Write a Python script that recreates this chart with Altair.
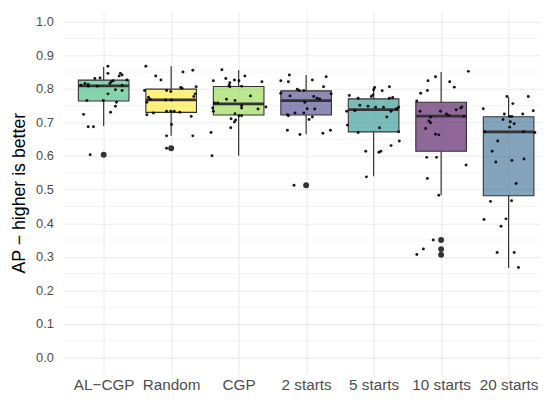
import json
import altair as alt
import pandas as pd

# ---------------- data ----------------
categories = ["AL−CGP", "Random", "CGP", "2 starts", "5 starts", "10 starts", "20 starts"]
fill_colors = ["#35B779", "#FDE725", "#8FD744", "#443A83", "#21908C", "#440154", "#31688E"]

# box statistics (as drawn)
box_q1 = [0.764, 0.730, 0.722, 0.722, 0.672, 0.614, 0.482]
box_median = [0.809, 0.767, 0.755, 0.765, 0.738, 0.719, 0.672]
box_q3 = [0.826, 0.799, 0.807, 0.794, 0.770, 0.760, 0.717]
whisker_low = [0.689, 0.660, 0.601, 0.665, 0.540, 0.484, 0.267]
whisker_high = [0.865, 0.867, 0.855, 0.841, 0.804, 0.850, 0.775]

outlier_cat = ["AL−CGP", "Random", "2 starts", "10 starts", "10 starts", "10 starts"]
outlier_val = [0.604, 0.623, 0.513, 0.350, 0.323, 0.306]

# individual runs (value, horizontal jitter in category units)
al_cgp_vals = [0.867, 0.846, 0.846, 0.841, 0.838, 0.831, 0.832, 0.826, 0.821, 0.824, 0.811, 0.816,
               0.813, 0.808, 0.808, 0.816, 0.811, 0.797, 0.795, 0.785, 0.765, 0.765, 0.760, 0.748,
               0.730, 0.724, 0.687, 0.687, 0.604]
al_cgp_jit = [0.063, 0.063, 0.248, 0.273, 0.229, -0.131, -0.054, 0.345, 0.112, 0.141, -0.336, -0.277,
              -0.229, -0.229, -0.092, 0.092, 0.273, 0.175, 0.273, 0.063, -0.248, -0.005, 0.190, 0.175,
              0.102, -0.297, -0.229, -0.151, -0.200]

random_vals = [0.867, 0.838, 0.826, 0.850, 0.855, 0.804, 0.802, 0.795, 0.795, 0.792, 0.806, 0.785,
               0.775, 0.769, 0.760, 0.767, 0.767, 0.777, 0.723, 0.728, 0.733, 0.733, 0.733, 0.730,
               0.718, 0.694, 0.660, 0.660, 0.623]
random_jit = [-0.375, -0.229, -0.151, 0.175, 0.321, 0.141, 0.161, -0.394, -0.068, -0.005, 0.370, 0.355,
              -0.336, -0.311, -0.360, -0.083, 0.005, 0.336, -0.360, -0.263, -0.068, -0.005, 0.044, 0.127,
              0.297, 0.005, -0.068, 0.321, -0.068]

cgp_vals = [0.857, 0.824, 0.831, 0.818, 0.811, 0.806, 0.826, 0.824, 0.838, 0.821, 0.808, 0.769,
            0.765, 0.779, 0.758, 0.758, 0.743, 0.733, 0.750, 0.743, 0.740, 0.746, 0.726, 0.720,
            0.720, 0.711, 0.707, 0.701, 0.684, 0.670, 0.601]
cgp_jit = [-0.248, -0.375, -0.190, -0.131, -0.141, -0.131, -0.063, 0.005, 0.092, 0.345, 0.044, -0.180,
           -0.054, 0.175, -0.360, -0.311, -0.384, -0.375, 0.044, 0.044, 0.287, 0.404, -0.054, 0.005,
           0.044, -0.112, -0.044, -0.063, -0.117, -0.409, -0.394]

s2_vals = [0.841, 0.824, 0.821, 0.826, 0.836, 0.806, 0.799, 0.795, 0.795, 0.787, 0.779, 0.777,
           0.772, 0.770, 0.785, 0.760, 0.741, 0.740, 0.723, 0.728, 0.728, 0.720, 0.716, 0.709,
           0.677, 0.664, 0.668, 0.677, 0.513]
s2_jit = [-0.248, -0.375, -0.263, 0.092, 0.297, 0.258, -0.131, -0.102, -0.034, -0.375, -0.238, 0.112,
          0.161, 0.200, 0.370, -0.019, 0.015, 0.127, -0.277, -0.165, -0.034, -0.263, 0.092, 0.044,
          -0.277, -0.092, 0.248, 0.360, -0.180]

s5_vals = [0.804, 0.797, 0.794, 0.806, 0.782, 0.777, 0.780, 0.772, 0.772, 0.774, 0.751, 0.748,
           0.745, 0.745, 0.745, 0.741, 0.733, 0.735, 0.733, 0.716, 0.692, 0.684, 0.670, 0.672,
           0.645, 0.631, 0.614, 0.611, 0.614, 0.538]
s5_jit = [0.015, 0.000, 0.127, 0.234, -0.010, -0.034, -0.360, -0.229, 0.234, 0.282, -0.204, -0.083,
          0.029, 0.146, 0.370, 0.341, -0.399, -0.277, 0.258, 0.195, -0.389, 0.088, -0.229, 0.370,
          0.380, 0.258, -0.117, 0.078, 0.107, -0.107]

s10_vals = [0.852, 0.836, 0.824, 0.821, 0.805, 0.795, 0.787, 0.764, 0.733, 0.733, 0.738, 0.743,
            0.746, 0.725, 0.721, 0.718, 0.716, 0.704, 0.699, 0.682, 0.665, 0.663, 0.596, 0.596,
            0.573, 0.533, 0.483, 0.350, 0.323, 0.307]
s10_jit = [0.404, -0.083, -0.195, 0.127, 0.195, -0.204, -0.302, -0.360, -0.311, -0.010, 0.224, 0.292,
           0.307, 0.078, 0.112, 0.341, -0.156, -0.180, -0.156, -0.229, -0.083, -0.034, -0.214, -0.068,
           0.370, -0.204, -0.034, -0.117, -0.263, -0.360]

s20_vals = [0.777, 0.777, 0.756, 0.741, 0.735, 0.725, 0.725, 0.718, 0.718, 0.709, 0.702, 0.696,
            0.686, 0.672, 0.672, 0.670, 0.645, 0.614, 0.582, 0.587, 0.591, 0.518, 0.465, 0.467,
            0.411, 0.413, 0.391, 0.313, 0.313, 0.268]
s20_jit = [-0.024, 0.292, 0.063, -0.375, 0.365, -0.063, 0.209, 0.015, 0.049, -0.083, 0.024, 0.083,
           0.015, -0.355, 0.219, 0.389, -0.161, -0.243, -0.190, 0.049, 0.229, 0.112, -0.268, 0.044,
           -0.365, -0.039, -0.112, -0.170, 0.083, 0.146]

y_breaks = [0.0, 0.1, 0.2, 0.3, 0.4, 0.5, 0.6, 0.7, 0.8, 0.9, 1.0]
y_minor_breaks = [0.05, 0.15, 0.25, 0.35, 0.45, 0.55, 0.65, 0.75, 0.85, 0.95]

# ---------------- tables ----------------
group_vals = [al_cgp_vals, random_vals, cgp_vals, s2_vals, s5_vals, s10_vals, s20_vals]
group_jit = [al_cgp_jit, random_jit, cgp_jit, s2_jit, s5_jit, s10_jit, s20_jit]

rows = []
for i, (vals, jits) in enumerate(zip(group_vals, group_jit)):
    for v, j in zip(vals, jits):
        rows.append({"cat": categories[i], "pos": i + 1, "jit": j, "ap": v})
points_df = pd.DataFrame(rows)

box_df = pd.DataFrame({
    "cat": categories,
    "pos": list(range(1, len(categories) + 1)),
    "q1": box_q1, "med": box_median, "q3": box_q3,
    "lo": whisker_low, "hi": whisker_high,
})

out_df = pd.DataFrame({
    "cat": outlier_cat,
    "pos": [categories.index(c) + 1 for c in outlier_cat],
    "ap": outlier_val,
})

minor_df = pd.DataFrame({"v": y_minor_breaks})

# ---------------- scales ----------------
label_expr = json.dumps(categories, ensure_ascii=False) + "[datum.value - 1]"

x_scale = alt.Scale(domain=[0.4, 7.48], nice=False, zero=False)
y_scale = alt.Scale(domain=[-0.05, 1.032], nice=False, zero=False)

x_axis = alt.Axis(values=list(range(1, len(categories) + 1)), labelExpr=label_expr, title=None,
                  ticks=False, domain=False, grid=True, gridColor="#EBEBEB", gridWidth=1.1,
                  labelColor="#4D4D4D", labelFontSize=15.5, labelPadding=3, labelFont="Liberation Sans")
y_axis = alt.Axis(values=y_breaks, format=".1f", title="AP − higher is better",
                  ticks=False, domain=False, grid=True, gridColor="#EBEBEB", gridWidth=1.1,
                  labelColor="#4D4D4D", labelFontSize=13, labelPadding=10, labelFont="Liberation Sans",
                  titleFontSize=18, titleFontWeight="normal", titleColor="#000000",
                  titleFont="Liberation Sans", titlePadding=7)

color_enc = alt.Color("cat:N", scale=alt.Scale(domain=categories, range=fill_colors), legend=None)

base_box = alt.Chart(box_df).transform_calculate(
    left="datum.pos - 0.375", right="datum.pos + 0.375"
)

minor_grid = alt.Chart(minor_df).mark_rule(color="#EBEBEB", strokeWidth=0.6).encode(
    y=alt.Y("v:Q", scale=y_scale, axis=y_axis)
)

whisk_up = base_box.mark_rule(color="#333333", strokeWidth=1.2).encode(
    x=alt.X("pos:Q", scale=x_scale, axis=x_axis),
    y=alt.Y("q3:Q", scale=y_scale, axis=y_axis),
    y2="hi:Q",
)
whisk_dn = base_box.mark_rule(color="#333333", strokeWidth=1.2).encode(
    x=alt.X("pos:Q", scale=x_scale, axis=x_axis),
    y=alt.Y("lo:Q", scale=y_scale, axis=y_axis),
    y2="q1:Q",
)
boxes = base_box.mark_bar(fillOpacity=0.6, stroke="#333333", strokeWidth=1.1).encode(
    x=alt.X("left:Q", scale=x_scale, axis=x_axis),
    x2="right:Q",
    y=alt.Y("q1:Q", scale=y_scale, axis=y_axis),
    y2="q3:Q",
    color=color_enc,
)
medians = base_box.mark_rule(color="#333333", strokeWidth=2.8).encode(
    x=alt.X("left:Q", scale=x_scale, axis=x_axis),
    x2="right:Q",
    y=alt.Y("med:Q", scale=y_scale, axis=y_axis),
)
outliers = alt.Chart(out_df).mark_circle(color="#333333", size=36, opacity=1).encode(
    x=alt.X("pos:Q", scale=x_scale, axis=x_axis),
    y=alt.Y("ap:Q", scale=y_scale, axis=y_axis),
)
jitter = alt.Chart(points_df).transform_calculate(
    xj="datum.pos + datum.jit"
).mark_circle(color="#000000", size=9, opacity=0.9).encode(
    x=alt.X("xj:Q", scale=x_scale, axis=x_axis),
    y=alt.Y("ap:Q", scale=y_scale, axis=y_axis),
)

chart = alt.layer(
    minor_grid, whisk_up, whisk_dn, boxes, medians, outliers, jitter
).properties(
    width=485, height=369,
    autosize=alt.AutoSizeParams(type="none"),
    padding={"left": 56, "top": 0, "right": 0, "bottom": 20},
    background="white",
).configure_view(stroke=None).configure_axis(labelFont="Liberation Sans", titleFont="Liberation Sans")

chart.save("out.html", embed_options={"renderer": "svg", "actions": False})
